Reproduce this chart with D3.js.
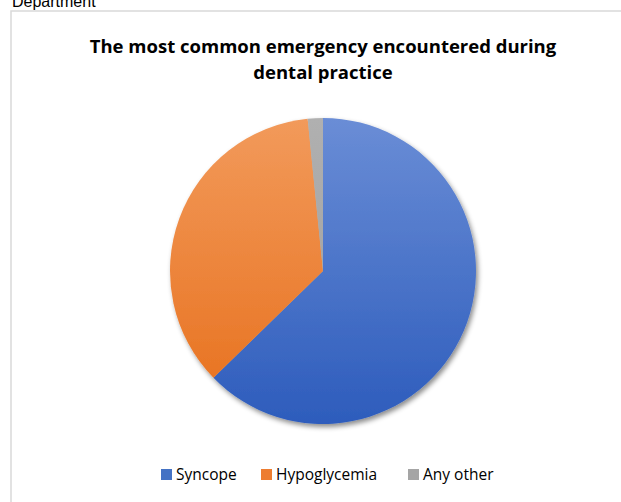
<!DOCTYPE html>
<meta charset='utf-8'>
<body style='margin:0;background:#fff'>
<script src='https://d3js.org/d3.v7.min.js'></script>
<script>

    var categories = ['Syncope', 'Hypoglycemia', 'Any other'];
    var values = [62.7, 35.7, 1.6];
    var title = ['The most common emergency encountered during', 'dental practice'];

    var colors = [['#6a8dd6', '#2d5cbc'], ['#f29a5b', '#e76f1b'], ['#b0b0b0', '#9c9c9c']];
    var legendColors = ['#4472c4', '#ed7d31', '#a5a5a5'];

    var width = 621, height = 502;
    var cx = 323, cy = 271, radius = 153;

    var svg = d3.select('body').append('svg')
        .attr('width', width)
        .attr('height', height);

    // caption from the page above, cut at the top
    svg.append('text')
        .attr('x', 12).attr('y', 7)
        .attr('font-family', 'Liberation Sans, Arial, sans-serif')
        .attr('font-size', 16)
        .attr('fill', '#000')
        .text('Department');

    // chart frame
    svg.append('rect')
        .attr('x', 11).attr('y', 11)
        .attr('width', 620).attr('height', 500)
        .attr('fill', '#fff')
        .attr('stroke', '#d9d9d9')
        .attr('stroke-width', 1.5);

    var defs = svg.append('defs');
    var shadow = defs.append('filter').attr('id', 'shadow')
        .attr('x', '-10%').attr('y', '-10%').attr('width', '130%').attr('height', '130%');
    shadow.append('feDropShadow')
        .attr('dx', 2).attr('dy', 3).attr('stdDeviation', 2.5)
        .attr('flood-color', '#000').attr('flood-opacity', 0.45);

    colors.forEach(function(c, i) {
        var g = defs.append('linearGradient').attr('id', 'grad_' + i)
            .attr('gradientUnits', 'userSpaceOnUse')
            .attr('x1', 0).attr('y1', -radius).attr('x2', 0).attr('y2', radius);
        g.append('stop').attr('offset', '0%').attr('stop-color', c[0]);
        g.append('stop').attr('offset', '100%').attr('stop-color', c[1]);
    });

    svg.selectAll('text.title')
        .data(title)
        .enter()
        .append('text')
        .attr('class', 'title')
        .attr('x', 323)
        .attr('y', function(d, i) { return 53 + i * 26; })
        .attr('text-anchor', 'middle')
        .attr('font-family', 'Open Sans, sans-serif')
        .attr('font-weight', 'bold')
        .attr('font-size', 18.5)
        .attr('fill', '#000')
        .text(function(d) { return d; });

    var pie = d3.pie().sort(null).value(function(d) { return d; });
    var arc = d3.arc().innerRadius(0).outerRadius(radius);

    var pieGroup = svg.append('g')
        .attr('transform', 'translate(' + cx + ',' + cy + ')')
        .attr('filter', 'url(#shadow)');

    pieGroup.selectAll('path')
        .data(pie(values))
        .enter()
        .append('path')
        .attr('d', arc)
        .attr('fill', function(d, i) { return 'url(#grad_' + i + ')'; });

    // legend
    var legendX = [161, 261, 408];
    var legend = svg.selectAll('g.legend')
        .data(categories)
        .enter()
        .append('g')
        .attr('class', 'legend')
        .attr('transform', function(d, i) { return 'translate(' + legendX[i] + ',469)'; });

    legend.append('rect')
        .attr('width', 11).attr('height', 11)
        .attr('fill', function(d, i) { return legendColors[i]; });

    legend.append('text')
        .attr('x', 15).attr('y', 10.5)
        .attr('font-family', 'Open Sans, sans-serif')
        .attr('font-size', 15.5)
        .attr('fill', '#000')
        .text(function(d) { return d; });

</script>
</body>
